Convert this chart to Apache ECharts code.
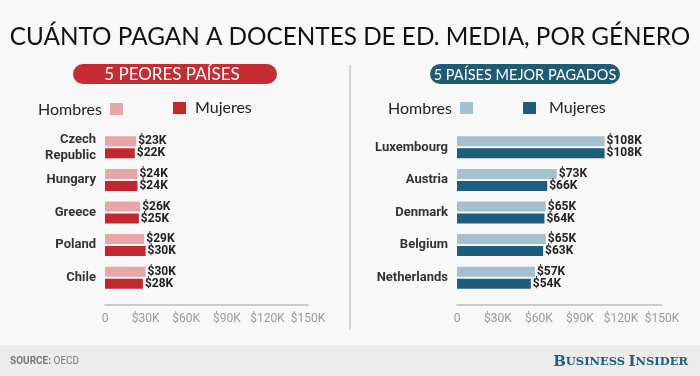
<!DOCTYPE html>
<html>
<head>
<meta charset="utf-8">
<script src="https://cdn.jsdelivr.net/npm/echarts@6/dist/echarts.min.js"></script>
<style>html,body{margin:0;padding:0;background:#f8f8f8;}#c{width:700px;height:376px;}</style>
</head>
<body>
<div id="c"></div>
<script>
const worstCountries = ['Czech\nRepublic', 'Hungary', 'Greece', 'Poland', 'Chile'];
const worstMen = [23, 24, 26, 29, 30];
const worstWomen = [22, 24, 25, 30, 28];
const bestCountries = ['Luxembourg', 'Austria', 'Denmark', 'Belgium', 'Netherlands'];
const bestMen = [108, 73, 65, 65, 57];
const bestWomen = [108, 66, 64, 63, 54];
const xTicks = [0, 30, 60, 90, 120, 150];

const chart = echarts.init(document.getElementById('c'), null, {renderer: 'canvas'});
const fmtTick = v => v === 0 ? '0' : '$' + v + 'K';
const valLabel = {show: true, position: 'right', distance: 2, formatter: p => '$' + p.value + 'K',
  color: '#222', fontFamily: 'Roboto', fontWeight: 'bold', fontSize: 12};

function xAxis(idx) {
  return {type: 'value', gridIndex: idx, min: xTicks[0], max: xTicks[xTicks.length - 1], interval: 30,
    position: 'bottom', offset: 11,
    axisLine: {show: true, lineStyle: {color: '#bdbdbd', width: 1.5}}, axisTick: {show: false},
    splitLine: {show: false},
    axisLabel: {formatter: fmtTick, color: '#9a9a9a', fontFamily: 'Roboto', fontSize: 12, margin: 8}};
}
function yAxis(idx, cats) {
  return {type: 'category', gridIndex: idx, data: cats, inverse: true,
    axisLine: {show: false}, axisTick: {show: false},
    axisLabel: {color: '#333', fontFamily: 'Roboto', fontWeight: 'bold', fontSize: 13, margin: 9, lineHeight: 16}};
}
function bar(name, idx, data, color) {
  return {name: name, type: 'bar', xAxisIndex: idx, yAxisIndex: idx, data: data, barWidth: 10, barGap: '20%',
    itemStyle: {color: color}, label: valLabel, silent: true};
}
function legendItem(textRight, x, y, text, sqX, sqY, color) {
  return [
    {type: 'text', x: x, y: y, style: {text: text, fill: '#222', font: '16px Lato', textAlign: textRight ? 'right' : 'left', textVerticalAlign: 'middle'}},
    {type: 'rect', shape: {x: sqX, y: sqY, width: 13, height: 12}, style: {fill: color}}
  ];
}

const option = {
  backgroundColor: '#f8f8f8',
  animation: false,
  grid: [
    {left: 105, top: 131, width: 203, height: 163},
    {left: 457, top: 131, width: 205, height: 163}
  ],
  xAxis: [xAxis(0), xAxis(1)],
  yAxis: [yAxis(0, worstCountries), yAxis(1, bestCountries)],
  series: [
    bar('Hombres', 0, worstMen, '#e8a6a8'),
    bar('Mujeres', 0, worstWomen, '#c1272d'),
    bar('Hombres', 1, bestMen, '#a3c1cf'),
    bar('Mujeres', 1, bestWomen, '#1c5e7c')
  ],
  graphic: [
    {type: 'rect', shape: {x: 0, y: 345, width: 700, height: 31}, style: {fill: '#ececec'}, z: -1},
    {type: 'rect', shape: {x: 349, y: 65, width: 2, height: 265}, style: {fill: '#d6d6d6'}},
    {type: 'text', x: 350, y: 37, style: {text: 'CUÁNTO PAGAN A DOCENTES DE ED. MEDIA, POR GÉNERO', fill: '#111', font: '24.3px Lato', textAlign: 'center', textVerticalAlign: 'middle'}},
    {type: 'rect', shape: {x: 73, y: 64, width: 204, height: 20, r: 10}, style: {fill: '#c62d32'}},
    {type: 'text', x: 172, y: 75, style: {text: '5 PEORES PAÍSES', fill: '#fff', font: '17px Lato', textAlign: 'center', textVerticalAlign: 'middle'}},
    {type: 'rect', shape: {x: 430, y: 64, width: 190, height: 20, r: 10}, style: {fill: '#1f5b74'}},
    {type: 'text', x: 525, y: 75, style: {text: '5 PAÍSES MEJOR PAGADOS', fill: '#fff', font: '14.5px Lato', textAlign: 'center', textVerticalAlign: 'middle'}},
    ...legendItem(true, 102, 110, 'Hombres', 110, 103, '#e8a6a8'),
    ...legendItem(false, 195, 108, 'Mujeres', 173, 102, '#c1272d'),
    ...legendItem(true, 452, 109, 'Hombres', 460, 102, '#a3c1cf'),
    ...legendItem(false, 549, 108, 'Mujeres', 523, 102, '#1c5e7c'),
    {type: 'text', x: 10, y: 361, style: {text: '{b|SOURCE:} OECD', fill: '#777', font: '10px Roboto', textVerticalAlign: 'middle',
      rich: {b: {fontWeight: 'bold', fill: '#777', fontSize: 10, fontFamily: 'Roboto'}}}},
    {type: 'text', x: 688, y: 362, style: {text: '{L|B}{s|USINESS} {L|I}{s|NSIDER}', textAlign: 'right', textVerticalAlign: 'middle',
      rich: {L: {fontFamily: 'DejaVu Serif', fontWeight: 'bold', fontSize: 15, fill: '#245e7e'},
             s: {fontFamily: 'DejaVu Serif', fontWeight: 'bold', fontSize: 11.5, fill: '#245e7e'}}}}
  ]
};
chart.setOption(option);
</script>
</body>
</html>
